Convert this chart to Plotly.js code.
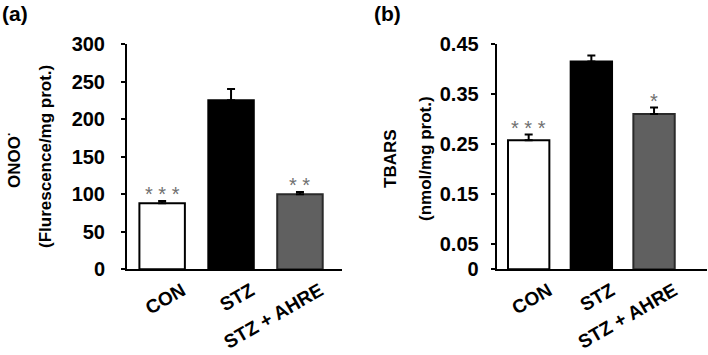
<!DOCTYPE html>
<html>
<head>
<meta charset="utf-8">
<script src="https://cdn.plot.ly/plotly-3.0.1.min.js"></script>
<style>html,body{margin:0;padding:0;background:#fff}#chart{width:708px;height:355px}</style>
</head>
<body>
<div id="chart"></div>
<script>
const categories = ['CON', 'STZ', 'STZ + AHRE'];
const onooValues = [88, 225, 100];
const onooErrors = [3, 15, 3];
const onooStars = ['* * *', '', '* *'];
const tbarsValues = [0.258, 0.415, 0.310];
const tbarsErrors = [0.011, 0.012, 0.013];
const tbarsStars = ['* * *', '', '*'];
const onooTicks = [0, 50, 100, 150, 200, 250, 300];
const tbarsTicks = [0, 0.05, 0.15, 0.25, 0.35, 0.45];
const barColors = ['#ffffff', '#000000', '#606060'];
const barLineColors = ['#000000', '#000000', '#2a2a2a'];

const FONT = 'Liberation Sans, Arial, sans-serif';
const zeros = categories.map(() => 0);

function barTrace(vals, errs, xa, ya) {
  return {
    type: 'bar', x: categories, y: vals, xaxis: xa, yaxis: ya,
    width: 0.66,
    marker: {color: barColors, line: {color: barLineColors, width: 2}},
    error_y: {type: 'data', symmetric: false, array: errs, arrayminus: zeros,
              color: '#000', thickness: 2, width: 4},
    hoverinfo: 'skip', showlegend: false
  };
}

const data = [
  barTrace(onooValues, onooErrors, 'x', 'y'),
  barTrace(tbarsValues, tbarsErrors, 'x2', 'y2')
];

const xCommon = {
  type: 'category', showline: true, linewidth: 2, linecolor: '#000',
  showgrid: false, zeroline: false, ticks: '', tickangle: -30,
  ticklabelshift: 20, ticklabelstandoff: 1,
  tickfont: {family: FONT, size: 19, color: '#000', weight: 700},
  fixedrange: true
};
const yCommon = {
  showline: true, linewidth: 2, linecolor: '#000', showgrid: false, zeroline: false,
  ticks: 'outside', ticklen: 4, tickwidth: 2, tickcolor: '#000',
  tickfont: {family: FONT, size: 20, color: '#000', weight: 700},
  fixedrange: true
};

const dom = [1 - 269.3 / 355, 1 - 44 / 355];

const annotations = [];
function stars(list, vals, errs, xr, yr) {
  list.forEach((s, i) => {
    if (!s) return;
    annotations.push({
      xref: xr, yref: yr, x: categories[i], y: vals[i] + errs[i],
      text: s, showarrow: false, yanchor: 'bottom', yshift: -6,
      font: {family: FONT, size: 20, color: '#707070'}
    });
  });
}
stars(onooStars, onooValues, onooErrors, 'x', 'y');
stars(tbarsStars, tbarsValues, tbarsErrors, 'x2', 'y2');

function label(text, x, y, size, rot, weight) {
  annotations.push({
    xref: 'paper', yref: 'paper', x: x / 708, y: 1 - y / 355,
    text: text, showarrow: false, textangle: rot, xanchor: 'center', yanchor: 'middle',
    font: {family: FONT, size: size, color: '#000', weight: weight}
  });
}
label('(a)', 15, 14, 21, 0, 700);
label('(b)', 388, 14, 21, 0, 700);
label('ONOO<sup>·</sup>', 13, 160, 17, -90, 700);
label('(Flurescence/mg prot.)', 45, 157, 17, -90, 700);
label('TBARS', 390, 159, 17, -90, 700);
label('(nmol/mg prot.)', 425, 159, 17, -90, 700);

const layout = {
  width: 708, height: 355,
  margin: {l: 0, r: 0, t: 0, b: 0},
  paper_bgcolor: '#fff', plot_bgcolor: '#fff',
  bargap: 0.3,
  xaxis: Object.assign({}, xCommon, {domain: [127 / 708, 342 / 708], range: [-0.51, 2.61], anchor: 'y'}),
  yaxis: Object.assign({}, yCommon, {domain: dom, range: [0, 300], tickvals: onooTicks,
    ticktext: onooTicks.map(String), ticklabelstandoff: 12, anchor: 'x'}),
  xaxis2: Object.assign({}, xCommon, {domain: [496.7 / 708, 706.7 / 708], range: [-0.51, 2.84], anchor: 'y2'}),
  yaxis2: Object.assign({}, yCommon, {domain: dom, range: [0, 0.45], tickvals: tbarsTicks,
    ticktext: tbarsTicks.map(String), ticklabelstandoff: 8, anchor: 'x2'}),
  annotations: annotations,
  showlegend: false
};

Plotly.newPlot('chart', data, layout, {staticPlot: true, displayModeBar: false});
</script>
</body>
</html>
